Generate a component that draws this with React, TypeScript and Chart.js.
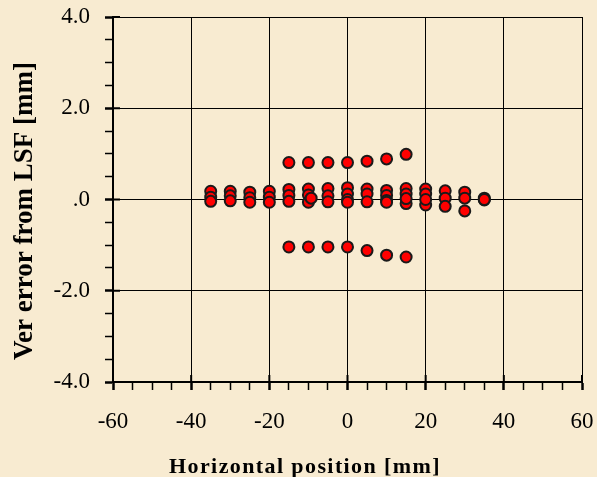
import React, { useEffect, useRef } from 'react';
import { Chart, registerables } from 'chart.js';

Chart.register(...registerables);

// Column x positions of the central band (mm)
const colX = [-35, -30, -25, -20, -15, -10, -5, 0, 5, 10, 15, 20, 25, 30, 35];
// Central band vertical errors (mm): three measured rows per column
const bandTop = [0.18, 0.18, 0.16, 0.18, 0.22, 0.23, 0.24, 0.26, 0.23, 0.2, 0.24, 0.23, 0.19, 0.16, 0.03];
const bandMid = [0.05, 0.08, 0.04, 0.05, 0.09, 0.1, 0.08, 0.12, 0.12, 0.09, 0.12, 0.12, 0.03, 0.03, -0.01];
const bandLow = [-0.04, -0.03, -0.06, -0.06, -0.04, -0.06, -0.05, 0.0, -0.05, -0.02, -0.09, -0.12, -0.15, -0.25, 0.0];
// Extra points inside the band
const extraX = [-9.3, 0, 10, 15, 20];
const extraY = [0.03, -0.06, -0.06, 0.02, 0.0];
// Outer rows
const outerX = [-15, -10, -5, 0, 5, 10, 15];
const upperY = [0.81, 0.81, 0.81, 0.81, 0.84, 0.89, 0.99];
const lowerY = [-1.04, -1.04, -1.04, -1.04, -1.12, -1.22, -1.26];

// Axis ticks
const xMajor = [-60, -40, -20, 0, 20, 40, 60];
const yMajor = [-4, -2, 0, 2, 4];

const xTitle = 'Horizontal position [mm]';
const yTitle = 'Ver error from LSF [mm]';

const FONT = '"Liberation Serif", "Times New Roman", serif';
const BG = '#F8EBD1';

const isMajorX = (v: number) => Math.abs(v % 20) < 1e-9;
const isMajorY = (v: number) => Math.abs(v % 2) < 1e-9;

export default function App() {
  const ref = useRef<HTMLCanvasElement>(null);

  useEffect(() => {
    if (!ref.current) return;
    const points: { x: number; y: number }[] = [];
    colX.forEach((x, i) => {
      points.push({ x, y: bandTop[i] }, { x, y: bandMid[i] }, { x, y: bandLow[i] });
    });
    extraX.forEach((x, i) => points.push({ x, y: extraY[i] }));
    outerX.forEach((x, i) => {
      points.push({ x, y: upperY[i] }, { x, y: lowerY[i] });
    });

    const bgPlugin = {
      id: 'bgPlugin',
      beforeDraw(chart: any) {
        const { ctx, width, height } = chart;
        ctx.save();
        ctx.fillStyle = BG;
        ctx.fillRect(0, 0, width, height);
        ctx.restore();
      },
    };

    const stubPlugin = {
      id: 'stubPlugin',
      beforeDatasetsDraw(chart: any) {
        const { ctx, chartArea } = chart;
        const xs = chart.scales.x;
        const ys = chart.scales.y;
        ctx.save();
        ctx.strokeStyle = '#000';
        ctx.lineWidth = 2;
        ctx.beginPath();
        xMajor.forEach((v) => {
          const px = xs.getPixelForValue(v);
          ctx.moveTo(px, chartArea.bottom);
          ctx.lineTo(px, chartArea.bottom - 7);
        });
        yMajor.forEach((v) => {
          const py = ys.getPixelForValue(v);
          ctx.moveTo(chartArea.left, py);
          ctx.lineTo(chartArea.left + 7, py);
        });
        ctx.stroke();
        ctx.restore();
      },
    };

    const titlePlugin = {
      id: 'titlePlugin',
      afterDraw(chart: any) {
        const { ctx } = chart;
        ctx.save();
        ctx.fillStyle = '#000';
        ctx.font = `bold 22px ${FONT}`;
        (ctx as any).letterSpacing = '1.4px';
        ctx.textAlign = 'center';
        ctx.textBaseline = 'alphabetic';
        ctx.fillText(xTitle, 305, 473);
        (ctx as any).letterSpacing = '0px';
        ctx.translate(32, 211);
        ctx.rotate(-Math.PI / 2);
        ctx.font = `bold 27px ${FONT}`;
        ctx.fillText(yTitle, 0, 0);
        ctx.restore();
      },
    };

    const chart = new Chart(ref.current, {
      type: 'scatter',
      data: {
        datasets: [
          {
            data: points,
            backgroundColor: '#FF0000',
            borderColor: '#1a1a1a',
            borderWidth: 2,
            pointRadius: 5.5,
            pointHoverRadius: 5.5,
          },
        ],
      },
      options: {
        animation: false,
        responsive: false,
        devicePixelRatio: 1,
        layout: { padding: { left: 0, top: 17, right: 15, bottom: 0 } },
        plugins: { legend: { display: false }, tooltip: { enabled: false } },
        scales: {
          x: {
            type: 'linear',
            min: -60,
            max: 60,
            afterFit: (s: any) => {
              s.height = 95;
              s.paddingLeft = 0;
              s.paddingRight = 0;
            },
            ticks: {
              stepSize: 5,
              autoSkip: false,
              maxRotation: 0,
              padding: 18,
              color: '#000',
              font: { family: FONT, size: 23 },
              callback: (v: any) => (isMajorX(Number(v)) ? String(v) : ''),
            },
            grid: {
              color: (c: any) => (c.tick && isMajorX(c.tick.value) ? '#000' : 'rgba(0,0,0,0)'),
              lineWidth: 1,
              tickColor: '#000',
              tickLength: 8,
              tickWidth: (c: any) => (c.tick && isMajorX(c.tick.value) ? 2.5 : 1.5),
            },
            border: { color: '#000', width: 2 },
          },
          y: {
            type: 'linear',
            min: -4,
            max: 4,
            afterFit: (s: any) => {
              s.width = 113;
              s.paddingTop = 0;
              s.paddingBottom = 0;
            },
            ticks: {
              stepSize: 0.5,
              autoSkip: false,
              padding: 15,
              color: '#000',
              font: { family: FONT, size: 23 },
              callback: (v: any) => {
                const n = Number(v);
                if (!isMajorY(n)) return '';
                return n === 0 ? '.0' : n.toFixed(1);
              },
            },
            grid: {
              color: (c: any) => (c.tick && isMajorY(c.tick.value) ? '#000' : 'rgba(0,0,0,0)'),
              lineWidth: 1,
              tickColor: '#000',
              tickLength: 8,
              tickWidth: (c: any) => (c.tick && isMajorY(c.tick.value) ? 2.5 : 1.5),
            },
            border: { color: '#000', width: 2 },
          },
        },
      },
      plugins: [bgPlugin, stubPlugin, titlePlugin],
    });

    return () => chart.destroy();
  }, []);

  return (
    <div style={{ position: 'absolute', left: 0, top: 0, width: 597, height: 477, background: BG }}>
      <canvas ref={ref} width={597} height={477} style={{ display: 'block', width: 597, height: 477 }} />
    </div>
  );
}
